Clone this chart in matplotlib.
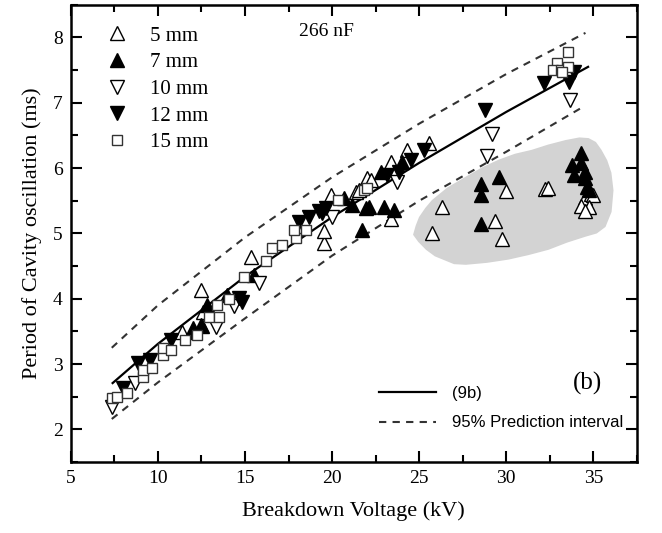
import matplotlib
matplotlib.use('Agg')
import matplotlib.pyplot as plt
from matplotlib.lines import Line2D
from matplotlib.ticker import MultipleLocator

plt.rcParams['font.family'] = 'Liberation Serif'

# data (kV, ms)
v5 = [11.41, 12.6, 12.45, 15.37, 19.55, 19.55, 19.95, 21.38, 21.55, 22.0, 22.24, 23.39,
      24.30, 25.56, 23.39, 26.31, 25.73, 29.97, 29.34, 29.74, 32.2, 32.38, 34.55, 34.84,
      35.0, 34.32, 34.73, 34.55]
t5 = [3.49, 3.80, 4.13, 4.64, 4.86, 5.04, 5.59, 5.64, 5.67, 5.85, 5.82, 6.10,
      6.28, 6.39, 5.22, 5.40, 5.01, 5.65, 5.19, 4.92, 5.68, 5.70, 5.54, 5.60,
      5.59, 5.42, 5.41, 5.34]

v7 = [11.99, 12.50, 12.56, 11.99, 12.79, 13.99, 15.54, 20.69, 21.15, 21.95, 21.72, 22.81,
      24.01, 22.12, 22.98, 23.56, 29.57, 28.54, 28.54, 28.54, 34.32, 33.75, 34.32, 33.92,
      34.55, 34.55, 34.61, 34.78]
t7 = [3.49, 3.60, 3.58, 3.55, 3.90, 4.06, 4.37, 5.54, 5.43, 5.39, 5.05, 5.94,
      6.10, 5.41, 5.41, 5.36, 5.87, 5.76, 5.59, 5.15, 6.23, 6.05, 6.08, 5.90,
      5.94, 5.85, 5.71, 5.67]

v10 = [7.35, 8.67, 13.36, 14.39, 15.83, 20.0, 23.73, 29.17, 28.88, 33.69]
t10 = [2.35, 2.71, 3.57, 3.89, 4.24, 5.25, 5.78, 6.52, 6.19, 7.05]

v12 = [7.98, 8.84, 9.52, 10.78, 14.68, 14.85, 18.12, 18.69, 19.43, 19.66, 19.26, 23.16,
       23.84, 24.53, 25.27, 28.77, 32.15, 33.58, 33.87]
t12 = [2.63, 3.01, 3.06, 3.37, 4.01, 3.95, 5.18, 5.25, 5.31, 5.39, 5.35, 5.90,
       5.94, 6.13, 6.28, 6.89, 7.31, 7.32, 7.47]

v15 = [7.35, 7.63, 8.21, 9.12, 9.12, 9.64, 10.27, 10.27, 10.78, 11.53, 12.27, 12.96,
       13.42, 13.53, 14.11, 14.97, 16.23, 16.57, 17.14, 17.94, 18.52, 17.83, 20.35, 21.84,
       22.0, 33.52, 32.89, 32.66, 33.12, 33.52, 33.18]
t15 = [2.48, 2.50, 2.56, 2.80, 2.91, 2.94, 3.14, 3.25, 3.22, 3.37, 3.44, 3.72,
       3.90, 3.72, 4.00, 4.34, 4.58, 4.78, 4.82, 4.93, 5.05, 5.05, 5.51, 5.67,
       5.70, 7.77, 7.61, 7.50, 7.50, 7.55, 7.47]

# fit curve (9b) and 95% prediction interval
fit_v = [7.4, 10, 15, 20, 25, 30, 34.7]
fit_t = [2.71, 3.31, 4.34, 5.25, 6.08, 6.86, 7.55]
up_v = [7.35, 10, 15, 20, 25, 30, 34.55]
up_t = [3.25, 3.90, 4.94, 5.86, 6.68, 7.44, 8.07]
lo_v = [7.35, 10, 15, 20, 25, 30, 34.3]
lo_t = [2.16, 2.72, 3.70, 4.66, 5.50, 6.25, 6.92]

# grey region outline
blob_v = [24.65, 24.80, 24.99, 25.35, 25.73, 26.6, 27.68, 28.6, 29.57, 30.5, 31.46, 32.4,
          33.41, 34.2, 34.73, 35.15, 35.47, 35.80, 36.04, 36.16, 36.05, 35.70, 35.2, 34.55,
          33.5, 32.43, 31.3, 30.14, 28.9, 27.68, 27.0, 26.54, 25.9, 25.39, 24.95]
blob_t = [4.98, 5.12, 5.25, 5.39, 5.51, 5.70, 5.87, 6.01, 6.13, 6.22, 6.28, 6.36,
          6.43, 6.47, 6.46, 6.40, 6.28, 6.12, 5.93, 5.66, 5.33, 5.10, 5.00, 4.95,
          4.86, 4.75, 4.67, 4.60, 4.55, 4.52, 4.53, 4.58, 4.65, 4.75, 4.87]

fig = plt.figure(figsize=(6.62, 5.33), dpi=100)
ax = fig.add_axes([0.107, 0.133, 0.855, 0.858])

ax.fill(blob_v, blob_t, color='#d3d3d3', lw=0, zorder=0)

ax.plot(fit_v, fit_t, color='black', lw=1.6, zorder=2)
ax.plot(up_v, up_t, color='#333333', lw=1.5, dashes=(3.5, 3), zorder=2)
ax.plot(lo_v, lo_t, color='#333333', lw=1.5, dashes=(3.5, 3), zorder=2)

tri = 9.5
ax.plot(v5, t5, '^', ms=tri, mfc='white', mec='black', mew=1, ls='none', zorder=3)
ax.plot(v7, t7, '^', ms=tri, mfc='black', mec='black', mew=1, ls='none', zorder=3)
ax.plot(v10, t10, 'v', ms=tri, mfc='white', mec='black', mew=1, ls='none', zorder=3)
ax.plot(v12, t12, 'v', ms=tri, mfc='black', mec='black', mew=1, ls='none', zorder=3)
ax.plot(v15, t15, 's', ms=7.5, mfc='white', mec='#333333', mew=1, ls='none', zorder=3)

ax.set_xlim(5, 37.5)
ax.set_ylim(1.5, 8.5)
ax.xaxis.set_major_locator(MultipleLocator(5))
ax.xaxis.set_minor_locator(MultipleLocator(2.5))
ax.yaxis.set_major_locator(MultipleLocator(1))
ax.yaxis.set_minor_locator(MultipleLocator(0.5))
ax.tick_params(which='both', direction='in', top=True, right=True, width=1.5)
ax.tick_params(which='major', length=8, labelsize=14, pad=6)
ax.tick_params(which='minor', length=5)
for s in ax.spines.values():
    s.set_linewidth(1.8)

ax.set_xlabel('Breakdown Voltage (kV)', fontsize=16, labelpad=10)
ax.set_ylabel('Period of Cavity oscillation (ms)', fontsize=16, labelpad=8)

ax.text(18.1, 8.09, '266 nF', fontsize=14, va='center')
ax.text(34.67, 2.71, '(b)', fontsize=18, va='center', ha='center')

handles = [
    Line2D([], [], marker='^', ms=tri, mfc='white', mec='black', ls='none'),
    Line2D([], [], marker='^', ms=tri, mfc='black', mec='black', ls='none'),
    Line2D([], [], marker='v', ms=tri, mfc='white', mec='black', ls='none'),
    Line2D([], [], marker='v', ms=tri, mfc='black', mec='black', ls='none'),
    Line2D([], [], marker='s', ms=7.5, mfc='white', mec='#333333', ls='none'),
]
leg1 = ax.legend(handles, ['5 mm', '7 mm', '10 mm', '12 mm', '15 mm'], loc='upper left',
                 bbox_to_anchor=(0.03, 0.99), frameon=False, fontsize=15,
                 handlelength=1.2, handletextpad=1.0, labelspacing=0.34, borderpad=0.3)
ax.add_artist(leg1)

h2 = [Line2D([], [], color='black', lw=1.6),
      Line2D([], [], color='#333333', lw=1.5, dashes=(3.5, 3))]
ax.legend(h2, ['(9b)', '95% Prediction interval'], loc='lower right',
          bbox_to_anchor=(1.0, 0.04), frameon=False,
          prop={'family': 'Liberation Sans', 'size': 12},
          handlelength=3.4, handletextpad=1.0, labelspacing=0.85, borderpad=0.3)

fig.savefig('out.png', dpi=100)
